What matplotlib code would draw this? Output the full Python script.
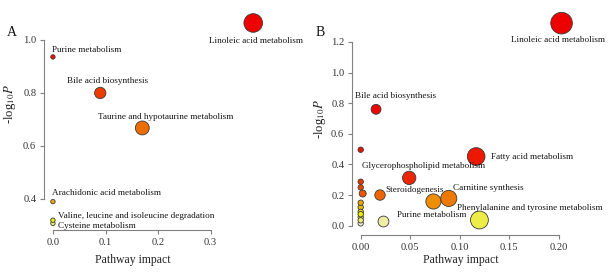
import numpy as np
import matplotlib
matplotlib.use("Agg")
import matplotlib.pyplot as plt
from matplotlib.colors import hsv_to_rgb

plt.rcParams['font.family'] = ['Liberation Serif', 'DejaVu Serif']
plt.rcParams['mathtext.fontset'] = 'stix'

# ---------------- data ----------------
a_names = ["Linoleic acid metabolism", "Purine metabolism", "Bile acid biosynthesis",
           "Taurine and hypotaurine metabolism", "Arachidonic acid metabolism",
           "Valine, leucine and isoleucine degradation", "Cysteine metabolism"]
a_impact = [0.381, 0.0, 0.090, 0.170, 0.0, 0.0, 0.0]
a_logp = [1.064, 0.936, 0.800, 0.668, 0.390, 0.320, 0.308]

b_names = ["Linoleic acid metabolism", "Bile acid biosynthesis", "", "Fatty acid metabolism",
           "Glycerophospholipid metabolism", "", "", "", "Steroidogenesis",
           "Carnitine synthesis", "", "", "", "", "", "",
           "Phenylalanine and tyrosine metabolism", "", "Purine metabolism", ""]
b_impact = [0.203, 0.0155, 0.0, 0.1167, 0.049, 0.0, 0.0, 0.002, 0.0195,
            0.089, 0.0735, 0.0, 0.0, 0.0, 0.0, 0.0,
            0.120, 0.0, 0.023, 0.0]
b_logp = [1.323, 0.760, 0.496, 0.452, 0.312, 0.287, 0.250, 0.210, 0.200,
          0.178, 0.158, 0.150, 0.120, 0.090, 0.075, 0.055,
          0.037, 0.035, 0.027, 0.015]

# label anchor positions (layout only): name -> (x, y, ha)
a_label_pos = {
    "Linoleic acid metabolism": (0.386, 0.995, 'center'),
    "Purine metabolism": (-0.002, 0.962, 'left'),
    "Bile acid biosynthesis": (0.026, 0.845, 'left'),
    "Taurine and hypotaurine metabolism": (0.085, 0.710, 'left'),
    "Arachidonic acid metabolism": (-0.002, 0.421, 'left'),
    "Valine, leucine and isoleucine degradation": (0.010, 0.337, 'left'),
    "Cysteine metabolism": (0.010, 0.298, 'left'),
}
b_label_pos = {
    "Linoleic acid metabolism": (0.199, 1.212, 'center'),
    "Bile acid biosynthesis": (-0.006, 0.847, 'left'),
    "Fatty acid metabolism": (0.1315, 0.447, 'left'),
    "Glycerophospholipid metabolism": (0.001, 0.387, 'left'),
    "Steroidogenesis": (0.0246, 0.232, 'left'),
    "Carnitine synthesis": (0.093, 0.243, 'left'),
    "Phenylalanine and tyrosine metabolism": (0.097, 0.118, 'left'),
    "Purine metabolism": (0.0364, 0.072, 'left'),
}


def heat_colors(n, power=1.5):
    j = n // 4
    i = n - j
    cols = [hsv_to_rgb(((t ** power) / 6, 1.0, 1.0)) for t in np.linspace(0, 1, i)]
    if j > 0:
        for s in np.linspace(1 - 1 / (2 * j), 1 / (2 * j), j):
            cols.append(hsv_to_rgb((1 / 6, s, 1.0)))
    return [np.clip(np.array(c) * 0.93, 0, 1) for c in cols]


def draw(ax, impact, logp, names, label_pos, r0, rmax):
    impact = np.asarray(impact)
    logp = np.asarray(logp)
    n = len(logp)
    cols = heat_colors(n)
    order = np.argsort(-logp)
    rank = np.empty(n, int)
    rank[order] = np.arange(n)
    colors = [cols[r] for r in rank]
    radius_px = r0 + (rmax - r0) * np.sqrt(impact / impact.max())
    sizes = (2 * radius_px * 0.72) ** 2
    idx = np.argsort(impact)
    ax.scatter(impact[idx], logp[idx], s=sizes[idx], c=[colors[k] for k in idx],
               edgecolors='#3a3a3a', linewidths=0.6, zorder=3, clip_on=False)
    for nm in names:
        if nm and nm in label_pos:
            x, y, ha = label_pos[nm]
            ax.text(x, y, nm, ha=ha, va='center', fontsize=6.6, color='#111111', zorder=4)


def style(ax, xb, yb, xticks, xlabels, yticks, ylabels, xl, yl):
    for s in ['top', 'right']:
        ax.spines[s].set_visible(False)
    for s in ['left', 'bottom']:
        ax.spines[s].set_color('#808080')
        ax.spines[s].set_linewidth(0.8)
    ax.spines['left'].set_bounds(*yb)
    ax.spines['bottom'].set_bounds(*xb)
    ax.set_xticks(xticks)
    ax.set_xticklabels(xlabels)
    ax.set_yticks(yticks)
    ax.set_yticklabels(ylabels)
    ax.tick_params(length=3, width=0.8, color='#808080', labelsize=7.6,
                   labelcolor='#333333', pad=2.5)
    ax.set_xlabel("Pathway impact", fontsize=8.5, color='#222222')
    ax.set_ylabel(r"-log$_{10}$$\mathit{P}$", fontsize=9.2, color='#222222')
    ax.xaxis.set_label_coords(*xl)
    ax.yaxis.set_label_coords(*yl)
    ax.patch.set_visible(False)


fig = plt.figure(figsize=(6.15, 2.73), dpi=100)

axA = fig.add_axes([44 / 615, 43 / 273, 256 / 615, 220 / 273])
axA.set_xlim(-0.017, 0.470)
axA.set_ylim(0.283, 1.113)
draw(axA, a_impact, a_logp, a_names, a_label_pos, 2.2, 9.3)
style(axA, (0, 0.3), (0.4, 1.0), [0, 0.1, 0.2, 0.3], ['0.0', '0.1', '0.2', '0.3'],
      [0.4, 0.6, 0.8, 1.0], ['0.4', '0.6', '0.8', '1.0'],
      ((132.5 - 44) / 256, -0.109), (-0.10, 0.573))

axB = fig.add_axes([352 / 615, 38 / 273, 260 / 615, 227 / 273])
axB.set_xlim(-0.0088, 0.254)
axB.set_ylim(-0.061, 1.422)
draw(axB, b_impact, b_logp, b_names, b_label_pos, 2.7, 10.8)
style(axB, (0, 0.2), (0, 1.2), [0, 0.05, 0.10, 0.15, 0.20],
      ['0.00', '0.05', '0.10', '0.15', '0.20'],
      [0, 0.2, 0.4, 0.6, 0.8, 1.0, 1.2], ['0.0', '0.2', '0.4', '0.6', '0.8', '1.0', '1.2'],
      ((460.5 - 352) / 260, -0.084), (-0.094, 0.51))

fig.text(12 / 615, 1 - 33 / 273, "A", fontsize=10, ha='center', va='center', color='#111111')
fig.text(320 / 615, 1 - 32 / 273, "B", fontsize=10, ha='center', va='center', color='#111111')

fig.savefig("out.png", dpi=100)
